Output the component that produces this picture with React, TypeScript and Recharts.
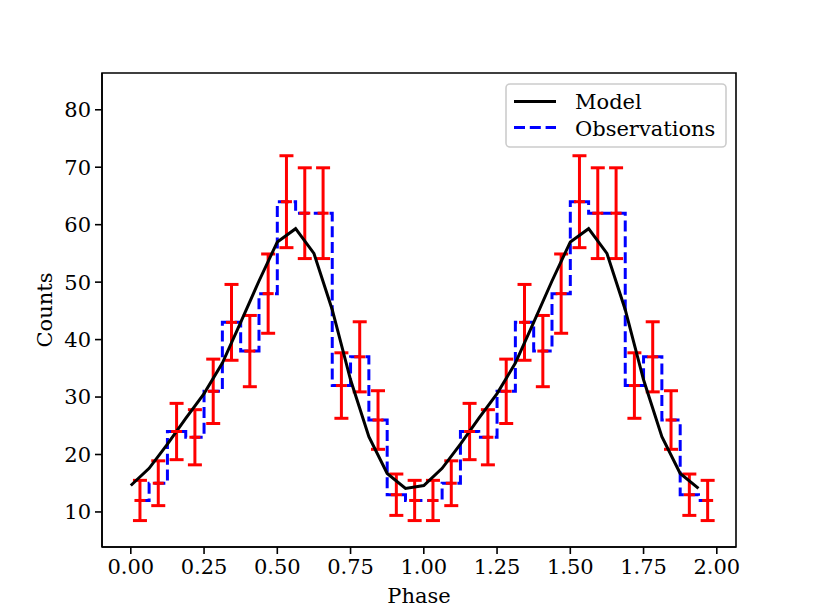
import React from 'react';
import {
  ComposedChart,
  Line,
  Scatter,
  ErrorBar,
  XAxis,
  YAxis,
  ReferenceArea,
} from 'recharts';

// ---- data ----
const OBS_PHASE = [
  0.03125, 0.09375, 0.15625, 0.21875, 0.28125, 0.34375, 0.40625, 0.46875,
  0.53125, 0.59375, 0.65625, 0.71875, 0.78125, 0.84375, 0.90625, 0.96875,
  1.03125, 1.09375, 1.15625, 1.21875, 1.28125, 1.34375, 1.40625, 1.46875,
  1.53125, 1.59375, 1.65625, 1.71875, 1.78125, 1.84375, 1.90625, 1.96875,
];
const OBS_COUNTS = [
  12, 15, 24, 23, 31, 43, 38, 48, 64, 62, 62, 32, 37, 26, 13, 12,
  12, 15, 24, 23, 31, 43, 38, 48, 64, 62, 62, 32, 37, 26, 13, 12,
];
const OBS_ERR = [
  3.5, 3.9, 4.9, 4.8, 5.6, 6.6, 6.2, 6.9, 8.0, 7.9, 7.9, 5.7, 6.1, 5.1, 3.6, 3.5,
  3.5, 3.9, 4.9, 4.8, 5.6, 6.6, 6.2, 6.9, 8.0, 7.9, 7.9, 5.7, 6.1, 5.1, 3.6, 3.5,
];
const MODEL_PHASE = [
  0, 0.0625, 0.125, 0.1875, 0.25, 0.3125, 0.375, 0.4375,
  0.5, 0.5625, 0.625, 0.6875, 0.75, 0.8125, 0.875, 0.9375,
  1.0, 1.0625, 1.125, 1.1875, 1.25, 1.3125, 1.375, 1.4375,
  1.5, 1.5625, 1.625, 1.6875, 1.75, 1.8125, 1.875, 1.9375,
];
const MODEL_VALUES = [
  14.6, 17.6, 21.8, 26.3, 30.6, 35.9, 43.0, 50.2, 57.0, 59.3, 55.0, 45.2, 33.0, 23.1, 16.7, 14.1,
  14.6, 17.6, 21.8, 26.3, 30.6, 35.9, 43.0, 50.2, 57.0, 59.3, 55.0, 45.2, 33.0, 23.1, 16.7, 14.1,
];
const X_TICKS = [0, 0.25, 0.5, 0.75, 1.0, 1.25, 1.5, 1.75, 2.0];
const Y_TICKS = [10, 20, 30, 40, 50, 60, 70, 80];
const X_DOMAIN: [number, number] = [-0.0983, 2.0655];
const Y_DOMAIN: [number, number] = [3.9, 86.4];

const obsData = OBS_PHASE.map((p, i) => ({ phase: p, counts: OBS_COUNTS[i], err: OBS_ERR[i] }));
const modelData = MODEL_PHASE.map((p, i) => ({ phase: p, model: MODEL_VALUES[i] }));

const W = 818;
const H = 613;
const FONT = '"DejaVu Serif", serif';
const FS = 21;

const CenterMark = (props: any) => {
  const { cx, cy } = props;
  if (cx == null || cy == null) return null;
  return <line x1={cx - 5.5} x2={cx + 5.5} y1={cy} y2={cy} stroke="#ff0000" strokeWidth={3} />;
};

export default function App() {
  const tickStyle = { fill: '#000', fontSize: FS, fontFamily: FONT };
  return (
    <div style={{ position: 'absolute', left: 0, top: 0, width: W, height: H, background: '#fff' }}>
      <ComposedChart width={W} height={H} margin={{ top: 73, right: 82, bottom: 36, left: 42 }}>
        <XAxis
          type="number"
          dataKey="phase"
          domain={X_DOMAIN}
          allowDataOverflow
          ticks={X_TICKS}
          tickFormatter={(v: number) => v.toFixed(2)}
          height={30}
          tickSize={7}
          tickMargin={5}
          tick={tickStyle}
          axisLine={{ stroke: '#000', strokeWidth: 1.6 }}
          tickLine={{ stroke: '#000', strokeWidth: 1.6 }}
        />
        <YAxis
          type="number"
          domain={Y_DOMAIN}
          allowDataOverflow
          ticks={Y_TICKS}
          width={60}
          tickSize={7}
          tickMargin={4}
          tick={tickStyle}
          axisLine={{ stroke: '#000', strokeWidth: 1.6 }}
          tickLine={{ stroke: '#000', strokeWidth: 1.6 }}
        />
        <ReferenceArea
          x1={X_DOMAIN[0]}
          x2={X_DOMAIN[1]}
          y1={Y_DOMAIN[0]}
          y2={Y_DOMAIN[1]}
          fill="none"
          fillOpacity={0}
          stroke="#000"
          strokeWidth={1.6}
        />
        <Line
          data={obsData}
          dataKey="counts"
          type="step"
          stroke="#0000ff"
          strokeWidth={3}
          strokeDasharray="11 4.8"
          dot={false}
          activeDot={false}
          isAnimationActive={false}
        />
        <Scatter data={obsData} dataKey="counts" shape={CenterMark} isAnimationActive={false}>
          <ErrorBar dataKey="err" direction="y" width={7} stroke="#ff0000" strokeWidth={3} />
        </Scatter>
        <Line
          data={modelData}
          dataKey="model"
          type="linear"
          stroke="#000"
          strokeWidth={3}
          dot={false}
          activeDot={false}
          isAnimationActive={false}
        />
      </ComposedChart>
      <svg
        width={W}
        height={H}
        style={{ position: 'absolute', left: 0, top: 0, pointerEvents: 'none' }}
        fontFamily={FONT}
      >
        <text x={51.7} y={310} transform="rotate(-90 51.7 310)" textAnchor="middle" fontSize={FS} fill="#000">
          Counts
        </text>
        <text x={419} y={603} textAnchor="middle" fontSize={FS} fill="#000">
          Phase
        </text>
        <rect x={506} y={84} width={220} height={63} rx={4} ry={4} fill="#fff" fillOpacity={0.8} stroke="#cccccc" strokeWidth={1.6} />
        <line x1={514} x2={556} y1={101.5} y2={101.5} stroke="#000" strokeWidth={3} />
        <line x1={514} x2={556} y1={127.5} y2={127.5} stroke="#0000ff" strokeWidth={3} strokeDasharray="11 4.8" />
        <text x={575} y={109} fontSize={FS} fill="#000">Model</text>
        <text x={575} y={135.5} fontSize={FS} fill="#000">Observations</text>
      </svg>
    </div>
  );
}
